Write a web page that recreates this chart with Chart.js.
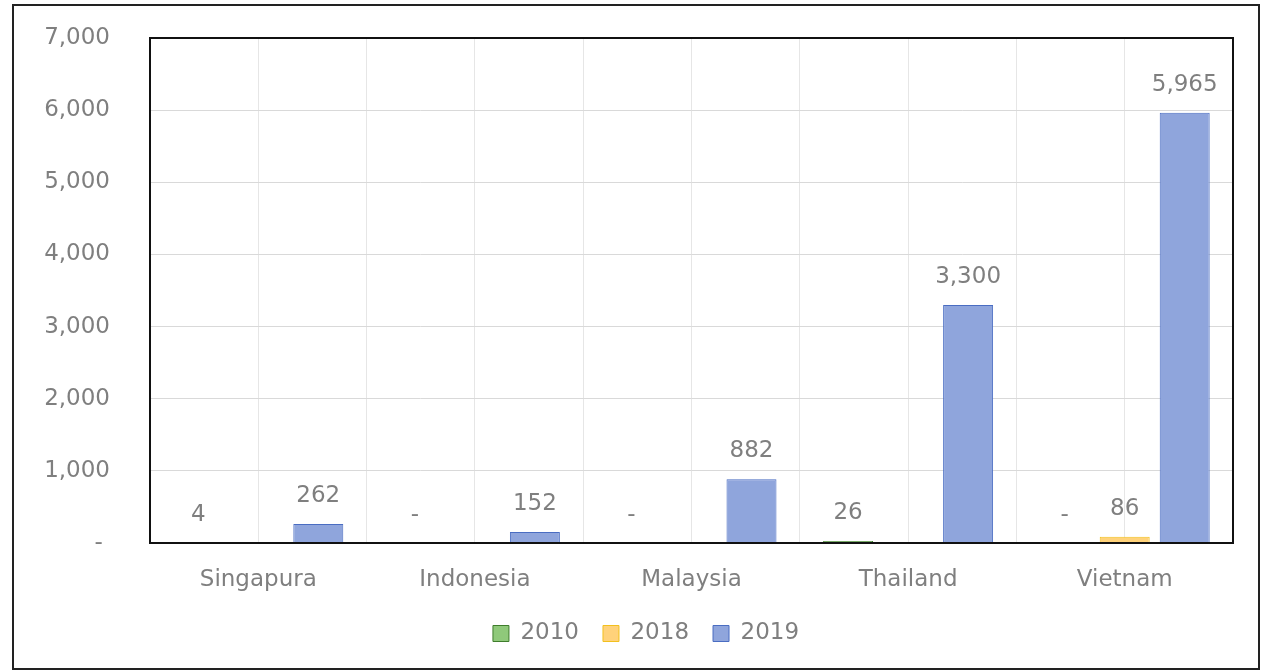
<!DOCTYPE html>
<html lang="en">

<head>
    <meta charset="UTF-8">
    <title>Country Chart</title>
    <script src="https://cdn.jsdelivr.net/npm/chart.js"></script>
    <style>
        body { margin: 0; background: #fff; }
        .chart-box {
            position: absolute;
            left: 12px;
            top: 4px;
            width: 1244px;
            height: 662px;
            border: 2px solid #222;
        }
    </style>
</head>

<body>
    <div class="chart-box">
        <canvas id="countryChart" width="1244" height="662"></canvas>
    </div>

    <script>
        const countries = ['Singapura', 'Indonesia', 'Malaysia', 'Thailand', 'Vietnam'];
        const years = ['2010', '2018', '2019'];
        const values2010 = [4, 0, 0, 26, 0];
        const values2018 = [null, null, null, null, 86];
        const values2019 = [262, 152, 882, 3300, 5965];

        const textGray = '#7f7f7f';
        const fontFamily = '"DejaVu Sans", Verdana, sans-serif';

        function fmt(v) {
            return v === 0 ? '-' : v.toLocaleString('en-US');
        }

        // value labels above bars
        const barLabels = {
            id: 'barLabels',
            afterDatasetsDraw(chart) {
                const ctx = chart.ctx;
                ctx.save();
                ctx.font = '23px ' + fontFamily;
                ctx.fillStyle = textGray;
                ctx.textAlign = 'center';
                ctx.textBaseline = 'middle';
                chart.data.datasets.forEach((ds, i) => {
                    chart.getDatasetMeta(i).data.forEach((bar, j) => {
                        const v = ds.data[j];
                        if (v === null) return;
                        ctx.fillText(fmt(v), bar.x, bar.y - 28);
                    });
                });
                ctx.restore();
            }
        };

        // black frame round the plot area
        const plotFrame = {
            id: 'plotFrame',
            afterDatasetsDraw(chart) {
                const a = chart.chartArea;
                const ctx = chart.ctx;
                ctx.save();
                ctx.strokeStyle = '#111';
                ctx.lineWidth = 2;
                ctx.strokeRect(a.left, a.top, a.right - a.left, a.bottom - a.top);
                ctx.restore();
            }
        };

        const ctx = document.getElementById('countryChart').getContext('2d');
        new Chart(ctx, {
            type: 'bar',
            data: {
                labels: countries,
                datasets: [{
                    label: years[0],
                    data: values2010,
                    backgroundColor: '#8fc97a',
                    borderColor: '#3f7d2c',
                    borderWidth: 1
                }, {
                    label: years[1],
                    data: values2018,
                    backgroundColor: '#ffd27a',
                    borderColor: '#f2c01e',
                    borderWidth: 1
                }, {
                    label: years[2],
                    data: values2019,
                    backgroundColor: '#8fa5dc',
                    borderColor: '#4a6dc2',
                    borderWidth: 1
                }]
            },
            options: {
                responsive: false,
                animation: false,
                categoryPercentage: 0.831,
                barPercentage: 0.833,
                // right padding is negative so the centred legend sits where it does in the original
                layout: { padding: { left: 0, right: -20, top: 32, bottom: 13 } },
                plugins: {
                    tooltip: { enabled: false },
                    legend: {
                        position: 'bottom',
                        labels: {
                            boxWidth: 16,
                            boxHeight: 16,
                            padding: 24,
                            color: textGray,
                            font: { family: fontFamily, size: 23 }
                        }
                    }
                },
                scales: {
                    x: {
                        grid: { color: '#e6e6e6', offset: true, drawTicks: false },
                        border: { display: false },
                        ticks: {
                            padding: 23,
                            color: textGray,
                            font: { family: fontFamily, size: 23 }
                        },
                        afterFit(axis) { axis.height = 55; }
                    },
                    xMid: {
                        position: 'top',
                        labels: countries,
                        offset: true,
                        grid: { color: '#e6e6e6', offset: false, drawTicks: false },
                        border: { display: false },
                        ticks: { display: false },
                        afterFit(axis) { axis.height = 0; }
                    },
                    y: {
                        min: 0,
                        max: 7000,
                        ticks: {
                            stepSize: 1000,
                            padding: 0,
                            color: textGray,
                            font: { family: fontFamily, size: 23 },
                            callback: v => v === 0 ? '- ' : v.toLocaleString('en-US')
                        },
                        // invisible tick marks push the labels away from the plot
                        grid: { color: '#d9d9d9', drawTicks: true, tickLength: 40, tickColor: 'rgba(0,0,0,0)' },
                        border: { display: false },
                        afterFit(axis) { axis.width = 136; }
                    },
                    yRight: {
                        position: 'right',
                        grid: { display: false },
                        border: { display: false },
                        ticks: { display: false },
                        afterFit(axis) { axis.width = 45; }
                    }
                }
            },
            plugins: [barLabels, plotFrame]
        });
    </script>
</body>

</html>
